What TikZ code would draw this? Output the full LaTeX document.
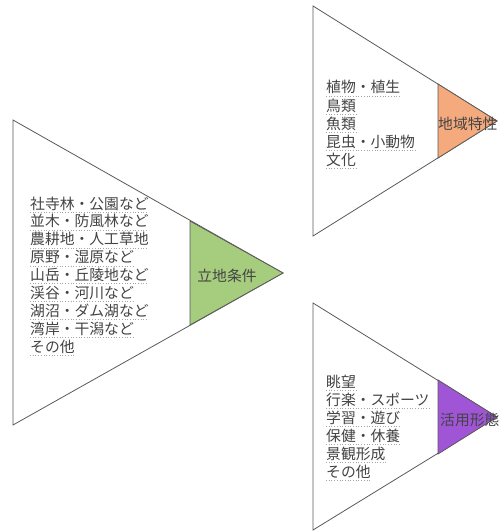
\documentclass[tikz,border=0pt]{standalone}
\usepackage{fontspec}
\setmainfont{Noto Sans CJK JP}
\definecolor{edge}{HTML}{5A5A5A}
\definecolor{txt}{HTML}{444444}
\definecolor{gfill}{HTML}{A5CD7D}
\definecolor{ofill}{HTML}{F5AA7D}
\definecolor{pfill}{HTML}{A055D7}
\tikzset{
  outer/.style={draw=edge, line width=0.8pt, fill=white, line join=miter},
  inner/.style={draw=edge, line width=0.8pt, line join=miter},
  item/.style={anchor=west, inner sep=0pt, text=txt, font=\fontsize{14.8}{14.8}\selectfont, text height=11.5pt, text depth=1.5pt},
  uline/.style={draw=gray!70, dotted, line width=0.7pt},
  lab/.style={inner sep=0pt, text=txt, font=\fontsize{14.8}{14.8}\selectfont}
}
\begin{document}
\begin{tikzpicture}[x=1pt,y=-1pt]
\useasboundingbox (0,0) rectangle (498,532);
\clip (0,0) rectangle (498,532);
% left triangle
\draw[outer] (13,120) -- (283,273) -- (13,425) -- cycle;
\draw[inner, fill=gfill] (190,221) -- (283,273) -- (190,325) -- cycle;
% top-right triangle
\draw[outer] (313,6) -- (497,121) -- (313,236) -- cycle;
\draw[inner, fill=ofill] (438,84) -- (497,121) -- (438,158) -- cycle;
% bottom-right triangle
\draw[outer] (313,303) -- (497,417) -- (313,530) -- cycle;
\draw[inner, fill=pfill] (438,380) -- (497,417) -- (438,454) -- cycle;
% labels
\node[lab] (l1) at (227,276) {立地条件};
\node[lab, anchor=west] (l2) at (438,124) {地域特性};
\node[lab, anchor=west] (l3) at (440,420) {活用形態};
% left list
\foreach \t [count=\i from 0] in {社寺林・公園など,並木・防風林など,農耕地・人工草地,原野・湿原など,山岳・丘陵地など,渓谷・河川など,湖沼・ダム湖など,湾岸・干潟など,その他}{
  \node[item] (a\i) at (30,{204+17.9*\i}) {\t};
  \draw[uline] ([yshift=-1.5pt]a\i.south west) -- ([yshift=-1.5pt]a\i.south east);
}
% top-right list
\foreach \t [count=\i from 0] in {植物・植生,鳥類,魚類,昆虫・小動物,文化}{
  \node[item] (b\i) at (326,{88+18*\i}) {\t};
  \draw[uline] ([yshift=-1.5pt]b\i.south west) -- ([yshift=-1.5pt]b\i.south east);
}
% bottom-right list
\foreach \t [count=\i from 0] in {眺望,行楽・スポーツ,学習・遊び,保健・休養,景観形成,その他}{
  \node[item] (c\i) at (326,{382+18*\i}) {\t};
  \draw[uline] ([yshift=-1.5pt]c\i.south west) -- ([yshift=-1.5pt]c\i.south east);
}
\end{tikzpicture}
\end{document}
